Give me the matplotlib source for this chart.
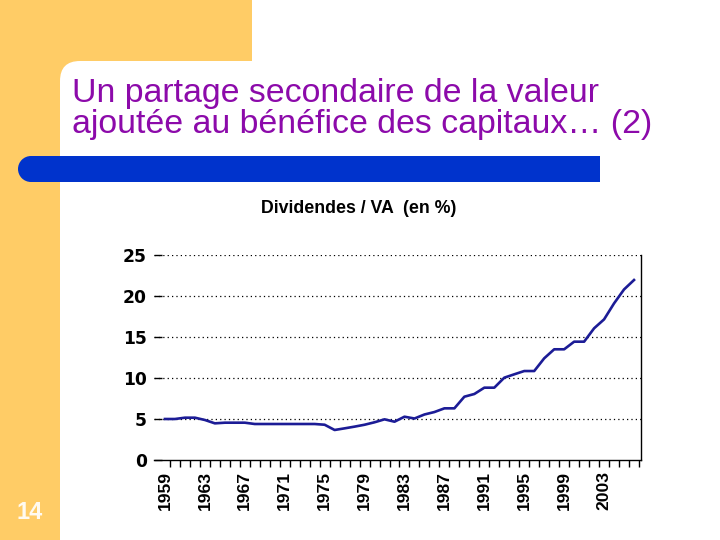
import matplotlib
matplotlib.use("Agg")
import matplotlib.pyplot as plt
from matplotlib.patches import Rectangle, Circle, FancyBboxPatch
from matplotlib.ticker import FixedLocator

# ---- data ----
years = list(range(1959, 2007))
dividends_va = [5.0, 5.0, 5.16, 5.16, 4.88, 4.47, 4.55, 4.55, 4.55, 4.39,
                4.39, 4.39, 4.39, 4.39, 4.39, 4.39, 4.3, 3.66, 3.86, 4.07,
                4.3, 4.6, 4.96, 4.67, 5.28, 5.06, 5.55, 5.85, 6.3, 6.3,
                7.72, 8.05, 8.82, 8.82, 10.04, 10.45, 10.85, 10.85, 12.4, 13.5,
                13.5, 14.43, 14.43, 16.06, 17.15, 19.1, 20.8, 21.95]
label_years = list(range(1959, 2004, 4))
y_ticks = [0, 5, 10, 15, 20, 25]

title_line1 = "Un partage secondaire de la valeur"
title_line2 = "ajoutée au bénéfice des capitaux… (2)"
subtitle = "Dividendes / VA  (en %)"
slide_number = "14"

W, H = 720, 540
fig = plt.figure(figsize=(7.2, 5.4), dpi=100)
fig.patch.set_facecolor("white")

# background decoration axes in pixel coords
bg = fig.add_axes([0, 0, 1, 1], zorder=0)
bg.set_xlim(0, W)
bg.set_ylim(H, 0)
bg.axis("off")
orange = "#FFCC66"
bg.add_patch(Rectangle((0, 0), 252, 82, color=orange, lw=0))
bg.add_patch(Rectangle((0, 0), 82, H, color=orange, lw=0))
bg.add_patch(FancyBboxPatch((60, 61), 900, 900,
                            boxstyle="round,pad=0,rounding_size=20",
                            fc="white", ec="none"))
blue = "#0033CC"
bg.add_patch(Rectangle((31, 156), 569, 26, color=blue, lw=0))
bg.add_patch(Circle((31, 169), 13, color=blue, lw=0))

title_color = "#8C0AAA"
bg.text(72, 102, title_line1, fontsize=24.4, color=title_color,
        family="Liberation Sans", va="baseline", ha="left")
bg.text(72, 133, title_line2, fontsize=24.4, color=title_color,
        family="Liberation Sans", va="baseline", ha="left")
bg.text(359, 213, subtitle, fontsize=12.8, fontweight="bold", color="black",
        family="Liberation Sans", va="baseline", ha="center")
bg.text(30, 519, slide_number, fontsize=17, fontweight="bold", color="#FFFAF0",
        family="Liberation Sans", va="baseline", ha="center")

# chart axes
left, right, top, bottom = 154, 641, 255, 460
ax = fig.add_axes([left / W, 1 - bottom / H, (right - left) / W, (bottom - top) / H], zorder=1)
ax.patch.set_alpha(0)
ax.plot(years, dividends_va, color="#1C1C96", lw=1.9, solid_joinstyle="round", zorder=3)
ax.set_xlim(1957.9, 2006.7)
ax.set_ylim(0, 25)

ax.set_yticks(y_ticks)
ax.set_yticklabels([str(v) for v in y_ticks], family="DejaVu Sans",
                   fontweight="bold", fontsize=12.3)
ax.tick_params(axis="y", direction="in", length=5.8, width=1, color="black", pad=5)
for v in y_ticks[1:]:
    ax.axhline(v, color="black", lw=0.9, ls=(0, (1, 2.5)), zorder=1)

ax.xaxis.set_major_locator(FixedLocator(label_years))
ax.set_xticklabels([str(y) for y in label_years], rotation=90,
                   family="Liberation Sans", fontweight="bold", fontsize=12.6)
ax.xaxis.set_minor_locator(FixedLocator([y + 0.5 for y in range(1959, 2007)]))
ax.tick_params(axis="x", which="major", length=0, pad=8)
ax.tick_params(axis="x", which="minor", direction="out", length=4.8, width=1, color="black")

ax.spines["left"].set_visible(False)
ax.spines["top"].set_visible(False)
ax.spines["right"].set_linewidth(1)
ax.spines["bottom"].set_linewidth(1)

fig.savefig("out.png", dpi=100, facecolor="white")
